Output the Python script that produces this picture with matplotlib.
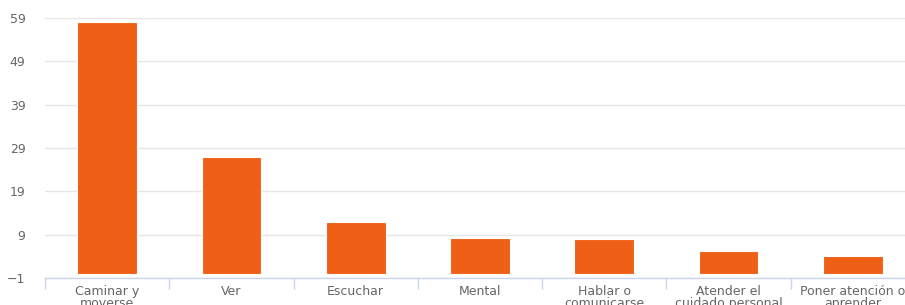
import matplotlib.pyplot as plt
import numpy as np

categories = [
    "Caminar y\nmoverse",
    "Ver",
    "Escuchar",
    "Mental",
    "Hablar o\ncomunicarse",
    "Atender el\ncuidado personal",
    "Poner atención o\naprender",
]
values = [58.0, 26.9, 11.9, 8.2, 8.0, 5.2, 4.1]
yticks = [-1, 9, 19, 29, 39, 49, 59]

bar_color = "#ef5f15"
text_color = "#666666"
grid_color = "#e6e6e6"
axis_color = "#ccd6eb"

fig = plt.figure(figsize=(9.05, 3.05), dpi=100)
# the original chart runs past the right edge, so the axes do too
ax = fig.add_axes([45 / 905, 27 / 305, 870 / 905, 260 / 305])

x = np.arange(len(categories))
ax.bar(x, values, width=0.48, color=bar_color, edgecolor="white", linewidth=0.8, zorder=3)

ax.set_xlim(-0.5, len(categories) - 0.5)
ax.set_ylim(-1, 59)
ax.set_yticks(yticks)
ax.set_yticklabels([str(t).replace("-", "\u2212") for t in yticks])
ax.yaxis.grid(True, color=grid_color, linewidth=1, zorder=0)

ax.set_xticks(x)
ax.set_xticklabels(categories, fontsize=9, color=text_color, linespacing=0.9)
ax.set_xticks(np.arange(len(categories) + 1) - 0.5, minor=True)
ax.tick_params(axis="x", which="major", length=0, pad=5)
ax.tick_params(axis="x", which="minor", length=8, color=axis_color, width=1)
ax.tick_params(axis="y", length=0, labelsize=9, labelcolor=text_color, pad=14)

for side in ["top", "right", "left"]:
    ax.spines[side].set_visible(False)
ax.spines["bottom"].set_color(axis_color)
ax.spines["bottom"].set_linewidth(1)

fig.savefig("out.png", dpi=100)
